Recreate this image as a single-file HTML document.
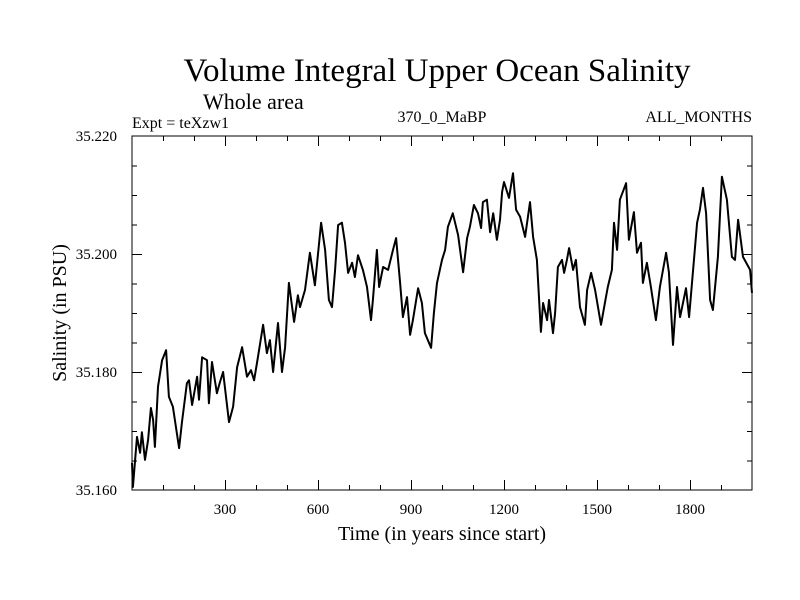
<!DOCTYPE html>
<html><head><meta charset="utf-8"><style>
body{margin:0;background:#fff}
svg{display:block}
text{font-family:"Liberation Serif",serif;fill:#000}
</style></head><body>
<svg id="chart" width="800" height="600" viewBox="0 0 800 600">
<rect width="800" height="600" fill="#fff"/>
<text x="437" y="81" font-size="33" text-anchor="middle">Volume Integral Upper Ocean Salinity</text>
<text x="203" y="109" font-size="22">Whole area</text>
<text x="132" y="128" font-size="16">Expt = teXzw1</text>
<text x="442" y="122" font-size="16" text-anchor="middle">370_0_MaBP</text>
<text x="752" y="122" font-size="16" text-anchor="end">ALL_MONTHS</text>
<text x="442" y="540" font-size="20" text-anchor="middle">Time (in years since start)</text>
<text transform="translate(66,313) rotate(-90)" font-size="20" text-anchor="middle">Salinity (in PSU)</text>
<g id="axes"></g>
<path id="series" fill="none" stroke="#000" stroke-width="2" stroke-linejoin="round"/>
<rect x="132" y="136" width="620" height="354" fill="none" stroke="#000" stroke-width="1"/>
</svg>
<script>
const years=[0,3,16,26,32,42,52,61,68,74,84,97,110,119,132,152,161,177,184,194,210,216,226,242,248,258,274,284,294,313,326,339,355,371,384,394,406,423,435,445,455,471,484,494,506,523,535,542,558,574,590,610,623,635,645,655,665,677,687,697,710,719,729,745,758,771,777,790,797,810,826,842,852,865,874,887,897,906,923,935,945,965,974,984,1000,1010,1019,1035,1052,1068,1081,1090,1103,1116,1126,1132,1145,1155,1165,1177,1187,1194,1200,1216,1229,1239,1252,1268,1284,1294,1306,1319,1326,1339,1345,1358,1365,1374,1387,1394,1403,1410,1423,1432,1445,1461,1468,1481,1494,1513,1526,1535,1548,1555,1565,1574,1594,1603,1619,1629,1642,1648,1661,1674,1690,1703,1723,1732,1745,1758,1768,1787,1797,1823,1832,1842,1852,1865,1874,1890,1903,1919,1935,1945,1955,1971,1994,2000];
const salinity=[35.1646,35.1605,35.1690,35.1663,35.1698,35.1651,35.1685,35.1739,35.1719,35.1673,35.1775,35.1820,35.1837,35.1758,35.1741,35.1671,35.1714,35.1781,35.1786,35.1744,35.1792,35.1753,35.1825,35.1820,35.1747,35.1817,35.1764,35.1783,35.1800,35.1715,35.1741,35.1808,35.1842,35.1792,35.1803,35.1786,35.1825,35.1880,35.1832,35.1854,35.1800,35.1883,35.1800,35.1842,35.1951,35.1885,35.1930,35.1910,35.1939,35.2002,35.1947,35.2053,35.2007,35.1922,35.1910,35.1973,35.2049,35.2053,35.2019,35.1968,35.1985,35.1961,35.1998,35.1973,35.1944,35.1888,35.1922,35.2007,35.1944,35.1978,35.1973,35.2007,35.2027,35.1951,35.1893,35.1927,35.1863,35.1888,35.1942,35.1917,35.1866,35.1841,35.1900,35.1951,35.1990,35.2007,35.2046,35.2069,35.2032,35.1969,35.2027,35.2046,35.2083,35.2069,35.2044,35.2088,35.2092,35.2037,35.2069,35.2024,35.2058,35.2105,35.2122,35.2095,35.2137,35.2075,35.2063,35.2029,35.2088,35.2029,35.1990,35.1868,35.1917,35.1888,35.1922,35.1866,35.1900,35.1978,35.1990,35.1968,35.1990,35.2010,35.1973,35.1990,35.1910,35.1880,35.1939,35.1968,35.1939,35.1880,35.1919,35.1944,35.1973,35.2053,35.2007,35.2092,35.2120,35.2024,35.2071,35.2002,35.2019,35.1951,35.1985,35.1944,35.1888,35.1944,35.2002,35.1969,35.1846,35.1944,35.1893,35.1942,35.1893,35.2053,35.2075,35.2112,35.2069,35.1922,35.1905,35.1995,35.2131,35.2092,35.1995,35.1990,35.2058,35.1995,35.1973,35.1934];
const xTicks=[300,600,900,1200,1500,1800];
const yTicks=[35.160,35.180,35.200,35.220];
const yTickLabels=["35.160","35.180","35.200","35.220"];

const X0=132,X1=752,Y0=490,Y1=136;
const xMin=0,xMax=2000,yMin=35.16,yMax=35.22;
const sx=v=>X0+(v-xMin)/(xMax-xMin)*(X1-X0);
const sy=v=>Y0-(v-yMin)/(yMax-yMin)*(Y0-Y1);
const NS="http://www.w3.org/2000/svg";
const axes=document.getElementById('axes');
function line(x1,y1,x2,y2,name){
  const l=document.createElementNS(NS,'line');
  l.setAttribute('x1',x1);l.setAttribute('y1',y1);l.setAttribute('x2',x2);l.setAttribute('y2',y2);
  l.setAttribute('stroke','#000');l.setAttribute('stroke-width','1');
  
  
  axes.appendChild(l);
}
function txt(x,y,s,anchor,name){
  const t=document.createElementNS(NS,'text');
  t.setAttribute('x',x);t.setAttribute('y',y);t.setAttribute('font-size','15');t.setAttribute('text-anchor',anchor);
  t.textContent=s;
  
  
  axes.appendChild(t);
}
// minor x ticks every 100 years
for(let v=100;v<2000;v+=100){
  const x=sx(v)+0.5, major=v%300===0, len=major?10:5;
  line(x,Y0,x,Y0-len,'x-tick');
  line(x,Y1,x,Y1+len,'x-tick-top');
}
xTicks.forEach(v=>txt(sx(v),514,String(v),'middle','x-tick-label'));
// y minor ticks every 0.005
for(let i=1;i<12;i++){
  const v=yMin+i*0.005, y=sy(v)+0.5, major=i%4===0, len=major?10:5;
  line(X0,y,X0+len,y,'y-tick');
  line(X1,y,X1-len,y,'y-tick-right');
}
yTicks.forEach((v,i)=>txt(117,sy(v)+5,yTickLabels[i],'end','y-tick-label'));
let d='';
years.forEach((yr,i)=>{d+=(i?'L':'M')+sx(yr).toFixed(1)+' '+sy(salinity[i]).toFixed(1);});
document.getElementById('series').setAttribute('d',d);
</script>
</body></html>
